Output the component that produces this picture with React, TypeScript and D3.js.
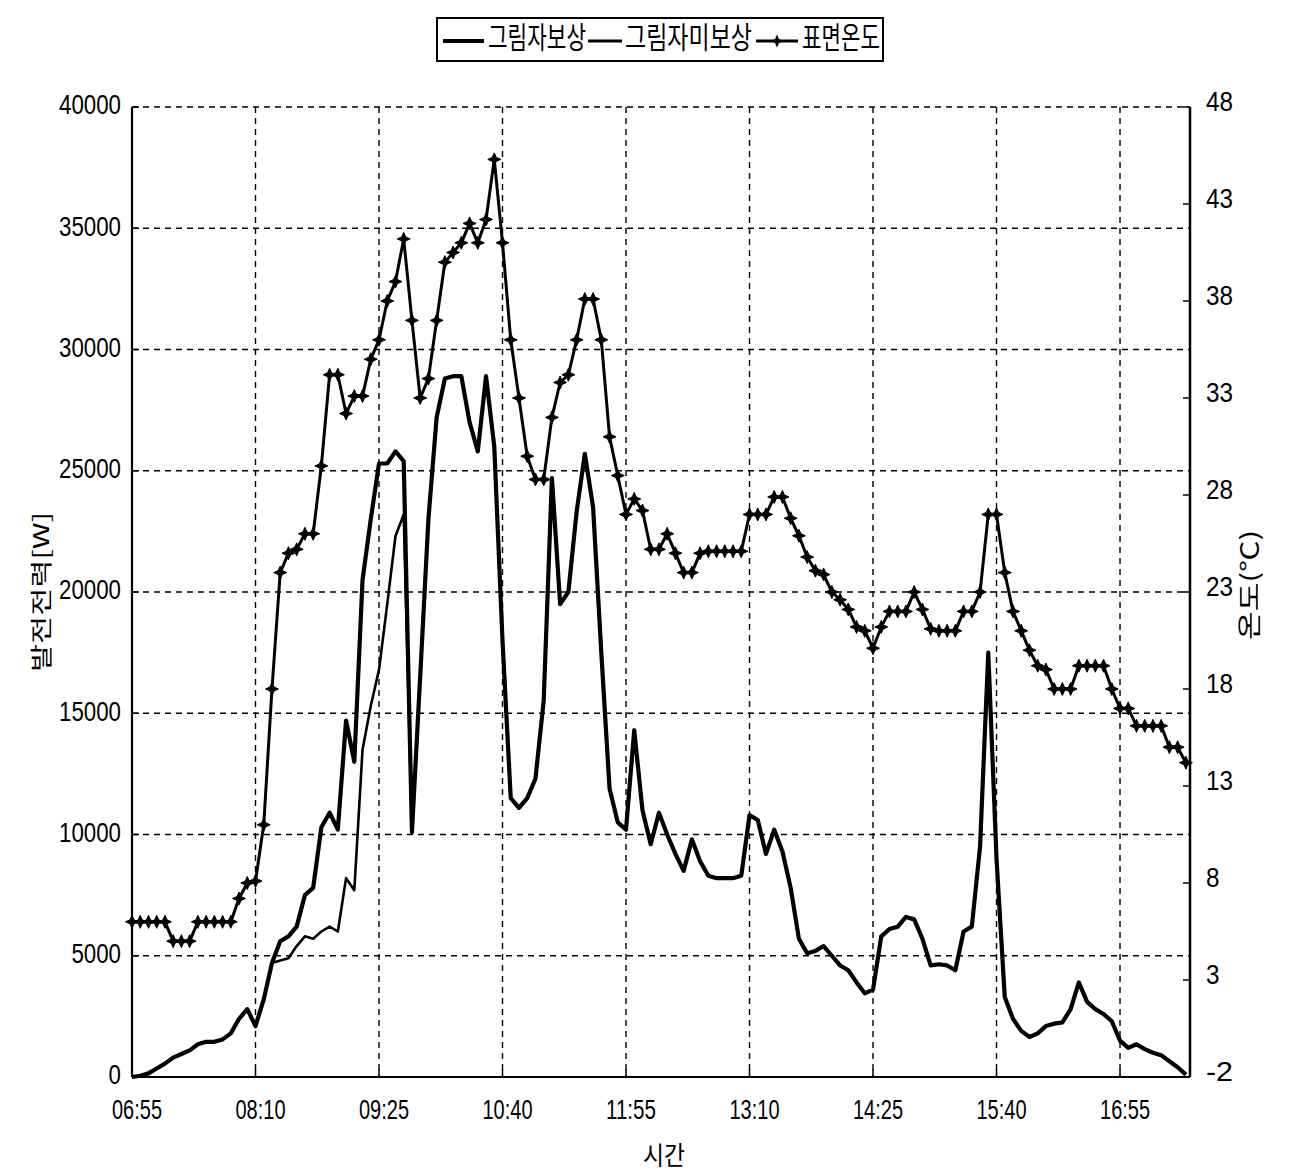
import React from 'react'
import * as d3 from 'd3'

// sampled every 5 minutes from 06:55
const sampleStart = '06:55'
const sampleStepMin = 5

const xTickLabels = ['06:55', '08:10', '09:25', '10:40', '11:55', '13:10', '14:25', '15:40', '16:55']
const powerTicks = [0, 5000, 10000, 15000, 20000, 25000, 30000, 35000, 40000]
const tempTicks = [-2, 3, 8, 13, 18, 23, 28, 33, 38, 43, 48]
const seriesNames = ['그림자보상', '그림자미보상', '표면온도']

// 그림자보상 [W]
const compensated = [
  0, 50, 150, 350, 550, 800, 950, 1100, 1350, 1450,
  1450, 1550, 1800, 2400, 2800, 2100, 3200, 4700, 5600, 5800,
  6200, 7500, 7800, 10300, 10900, 10200, 14700, 13000, 20500, 23000,
  25300, 25300, 25800, 25400, 10100, 16500, 23000, 27200, 28800, 28900,
  28900, 27000, 25800, 28900, 26000, 18000, 11500, 11100, 11500, 12300,
  15500, 24700, 19500, 20000, 23300, 25700, 23500, 17500, 11900, 10500,
  10200, 14300, 11000, 9600, 10900, 10000, 9200, 8500, 9800, 8900,
  8300, 8200, 8200, 8200, 8300, 10800, 10600, 9200, 10200, 9300,
  7800, 5700, 5100, 5200, 5400, 5000, 4600, 4400, 3900, 3450,
  3600, 5800, 6100, 6200, 6600, 6500, 5700, 4600, 4650, 4600,
  4400, 6000, 6200, 9500, 17500, 9000, 3300, 2400, 1900, 1650,
  1800, 2100, 2200, 2250, 2800, 3900, 3100, 2800, 2600, 2300,
  1500, 1200, 1350, 1150, 1000, 900, 650, 400, 100,
]

// 그림자미보상 [W]
const uncompensated = [
  0, 50, 150, 350, 550, 800, 950, 1100, 1350, 1450,
  1450, 1550, 1800, 2400, 2800, 2100, 3200, 4700, 4800, 4900,
  5400, 5800, 5700, 6000, 6200, 6000, 8200, 7700, 13500, 15300,
  16800, 19500, 22300, 23200, 10100, 16500, 23000, 27200, 28800, 28900,
  28900, 27000, 25800, 28900, 26000, 18000, 11500, 11100, 11500, 12300,
  15500, 24700, 19500, 20000, 23300, 25700, 23500, 17500, 11900, 10500,
  10200, 14300, 11000, 9600, 10900, 10000, 9200, 8500, 9800, 8900,
  8300, 8200, 8200, 8200, 8300, 10800, 10600, 9200, 10200, 9300,
  7800, 5700, 5100, 5200, 5400, 5000, 4600, 4400, 3900, 3450,
  3600, 5800, 6100, 6200, 6600, 6500, 5700, 4600, 4650, 4600,
  4400, 6000, 6200, 9500, 17500, 9000, 3300, 2400, 1900, 1650,
  1800, 2100, 2200, 2250, 2800, 3900, 3100, 2800, 2600, 2300,
  1500, 1200, 1350, 1150, 1000, 900, 650, 400, 100,
]

// 표면온도 [°C]
const surfaceTemp = [
  6, 6, 6, 6, 6, 5, 5, 5, 6, 6,
  6, 6, 6, 7.2, 8, 8.1, 11, 18, 24, 25,
  25.2, 26, 26, 29.5, 34.2, 34.2, 32.2, 33.1, 33.1, 35,
  36, 38, 39, 41.2, 37, 33, 34, 37, 40, 40.5,
  41, 42, 41, 42.2, 45.3, 41, 36, 33, 30, 28.8,
  28.8, 32, 33.8, 34.2, 36, 38.1, 38.1, 36, 31, 29,
  27, 27.8, 27.2, 25.2, 25.2, 26, 25, 24, 24, 25,
  25.1, 25.1, 25.1, 25.1, 25.1, 27, 27, 27, 27.9, 27.9,
  26.8, 25.9, 24.8, 24.1, 23.9, 23, 22.6, 22.1, 21.2, 21,
  20.1, 21.2, 22, 22, 22, 23, 22.1, 21.1, 21, 21,
  21, 22, 22, 23, 27, 27, 24, 22, 21, 20,
  19.2, 19, 18, 18, 18, 19.2, 19.2, 19.2, 19.2, 18,
  17, 17, 16.1, 16.1, 16.1, 16.1, 15, 15, 14.2,
]

const W = 1297
const H = 1174
const left = 132, right = 1190, top = 107, bottom = 1077

const parse = d3.timeParse('%H:%M')
const t0 = parse(sampleStart) as Date
const times = compensated.map((_, i) => d3.timeMinute.offset(t0, i * sampleStepMin))

const x = d3.scaleTime()
  .domain([t0, d3.timeSecond.offset(t0, 642.5 * 60)])
  .range([left, right])
const yPow = d3.scaleLinear().domain([0, 40000]).range([bottom, top])
const yTemp = d3.scaleLinear().domain([-2, 48]).range([bottom, top])

const powLine = d3.line<number>()
  .x((_, i) => x(times[i]))
  .y(d => yPow(d))
const tempLine = d3.line<number>()
  .x((_, i) => x(times[i]))
  .y(d => yTemp(d))

const star = 'M0,-6.5L2,-2L6.5,0L2,2L0,6.5L-2,2L-6.5,0L-2,-2Z'
const numFont = '"Liberation Sans", Arial, sans-serif'
const krFont = '"Noto Sans CJK KR", "Noto Sans", sans-serif'

function T(props: any) {
  const { w, children, ...rest } = props
  return (
    <text textLength={w} lengthAdjust="spacingAndGlyphs" fill="#000" {...rest}>{children}</text>
  )
}

export default function App() {
  const grid = { stroke: '#000', strokeWidth: 1.4, strokeDasharray: '6,5' }
  return (
    <svg width={W} height={H} style={{ position: 'absolute', left: 0, top: 0, background: '#fff' }}>
      <rect width={W} height={H} fill="#fff" />

      {/* grid */}
      {powerTicks.map(v => (
        <line key={'h' + v} x1={left} x2={right} y1={yPow(v)} y2={yPow(v)} {...grid} />
      ))}
      {xTickLabels.slice(1).map(l => (
        <line key={'v' + l} x1={x(parse(l) as Date)} x2={x(parse(l) as Date)} y1={top} y2={bottom} {...grid} />
      ))}

      {/* axes */}
      <line x1={left} x2={left} y1={top} y2={bottom} stroke="#000" strokeWidth={2.2} />
      <line x1={right} x2={right} y1={top} y2={bottom} stroke="#000" strokeWidth={2.5} />
      <line x1={left} x2={right} y1={bottom} y2={bottom} stroke="#000" strokeWidth={2.2} />

      {powerTicks.map(v => (
        <g key={'pl' + v}>
          <line x1={left} x2={left + 7} y1={yPow(v)} y2={yPow(v)} stroke="#000" strokeWidth={1.5} />
          <T x={121} y={yPow(v)} w={String(v).length * 12.4} textAnchor="end" dominantBaseline="middle"
            fontFamily={numFont} fontSize={28}>{v}</T>
        </g>
      ))}
      {tempTicks.map(v => (
        <g key={'tl' + v}>
          <line x1={right - 7} x2={right} y1={yTemp(v)} y2={yTemp(v)} stroke="#000" strokeWidth={1.5} />
          <T x={1206} y={yTemp(v) - 3} w={String(v).length * 13.5} textAnchor="start" dominantBaseline="middle"
            fontFamily={numFont} fontSize={28}>{v}</T>
        </g>
      ))}
      {xTickLabels.map(l => {
        const px = x(parse(l) as Date)
        return (
          <g key={'xl' + l}>
            <line x1={px} x2={px} y1={bottom} y2={bottom - 8} stroke="#000" strokeWidth={1.5} />
            <T x={px + 5} y={1112} w={50} textAnchor="middle" dominantBaseline="middle"
              fontFamily={numFont} fontSize={28}>{l}</T>
          </g>
        )
      })}

      {/* axis titles */}
      <T x={0} y={0} w={160} textAnchor="middle" dominantBaseline="middle" fontFamily={krFont} fontSize={22}
        transform="translate(43,592) rotate(-90)">발전전력[W]</T>
      <T x={0} y={0} w={110} textAnchor="middle" dominantBaseline="middle" fontFamily={krFont} fontSize={24}
        transform="translate(1251,585) rotate(-90)">온도(℃)</T>
      <T x={664} y={1158} w={42} textAnchor="middle" dominantBaseline="middle" fontFamily={krFont} fontSize={26}>시간</T>

      {/* series */}
      <path d={powLine(uncompensated) || ''} fill="none" stroke="#000" strokeWidth={2.6} strokeLinejoin="round" />
      <path d={powLine(compensated) || ''} fill="none" stroke="#000" strokeWidth={4.2} strokeLinejoin="round" />
      <path d={tempLine(surfaceTemp) || ''} fill="none" stroke="#000" strokeWidth={3} strokeLinejoin="round" />
      {surfaceTemp.map((v, i) => (
        <path key={'m' + i} d={star} transform={`translate(${x(times[i])},${yTemp(v)})`} fill="#000" stroke="#000" strokeWidth={1} />
      ))}

      {/* legend */}
      <rect x={437} y={18} width={446} height={43} fill="#fff" stroke="#000" strokeWidth={2} />
      <line x1={443} x2={484} y1={41} y2={41} stroke="#000" strokeWidth={4.2} />
      <T x={488} y={40} w={98} dominantBaseline="middle" fontFamily={krFont} fontSize={30}>{seriesNames[0]}</T>
      <line x1={588} x2={622} y1={41} y2={41} stroke="#000" strokeWidth={3} />
      <T x={625} y={40} w={127} dominantBaseline="middle" fontFamily={krFont} fontSize={30}>{seriesNames[1]}</T>
      <line x1={756} x2={798} y1={41} y2={41} stroke="#000" strokeWidth={3} />
      <path d={star} transform="translate(777,41)" fill="#000" />
      <T x={802} y={40} w={78} dominantBaseline="middle" fontFamily={krFont} fontSize={30}>{seriesNames[2]}</T>
    </svg>
  )
}
